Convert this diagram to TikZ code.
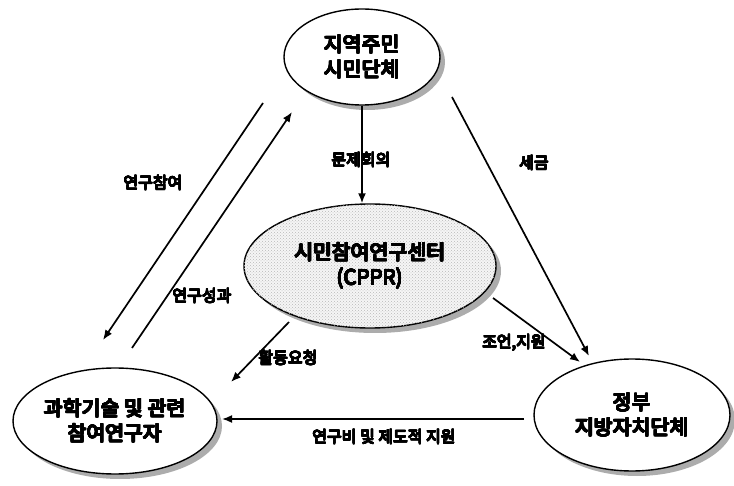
\documentclass[tikz,border=0pt]{standalone}
\usepackage{fontspec}
\newfontfamily\kr{Noto Sans CJK KR}
\usepackage[copies]{contour}
\contournumber{16}
\newcommand\bld[2][0.6pt]{\contourlength{#1}\contour{black}{#2}}
\usetikzlibrary{arrows.meta,shapes.geometric,shadows,patterns,calc}
\begin{document}
\begin{tikzpicture}[x=1pt,y=-1pt,
  ell/.style={ellipse, draw, line width=1.4pt, fill=white, inner sep=0pt, align=center,
    font=\kr\fontsize{20.5}{25}\selectfont,
    drop shadow={shadow xshift=5pt, shadow yshift=-5pt, fill=gray!65, opacity=1}},
  lab/.style={font=\kr\fontsize{16}{18}\selectfont, inner sep=1pt},
  arr/.style={line width=1.7pt, -{Latex[length=10pt,width=8pt]}}]
\useasboundingbox (0,0) rectangle (734,486);
\node[ell, minimum width=156pt, minimum height=96pt] (T) at (362,57) {\bld{지역주민}\\\bld{시민단체}};
\node[ell, minimum width=252pt, minimum height=124pt, fill=gray!8,
  postaction={pattern=crosshatch dots, pattern color=gray!55}] (C) at (370,266)
  {\bld{시민참여연구센터}\\\bld{(CPPR)}};
\node[ell, minimum width=204pt, minimum height=106pt] (BL) at (115,421) {\bld{과학기술 및 관련}\\\bld{참여연구자}};
\node[ell, minimum width=196pt, minimum height=112pt] (BR) at (632,415) {\bld{정부}\\\bld{지방자치단체}};
% coordinates for free ends
\coordinate (s1) at (452,97);  \coordinate (s2) at (589,356);
\coordinate (p1) at (263,103); \coordinate (p2) at (103,340);
\coordinate (r1) at (132,348); \coordinate (r2) at (292,112);
\coordinate (a1) at (289,322); \coordinate (a2) at (231,382);
\coordinate (j1) at (493,298); \coordinate (j2) at (580,362);
\coordinate (f1) at (524,419); \coordinate (f2) at (222,419);
% connectors
\draw[arr] (T.south) -- (T.south |- C.north);
\draw[arr] (s1) -- (s2);
\draw[arr] (p1) -- (p2);
\draw[arr] (r1) -- (r2);
\draw[arr] (a1) -- (a2);
\draw[arr] (j1) -- (j2);
\draw[arr] (f1) -- (f2);
% labels
\node[lab] (l1) at (361,160) {\bld[0.45pt]{문제회의}};
\node[lab] (l2) at (534,163) {\bld[0.45pt]{세금}};
\node[lab] (l3) at (153,183) {\bld[0.45pt]{연구참여}};
\node[lab] (l4) at (202,296) {\bld[0.45pt]{연구성과}};
\node[lab] (l5) at (288,358) {\bld[0.45pt]{활동요청}};
\node[lab] (l6) at (514,343) {\bld[0.45pt]{조언,지원}};
\node[lab] (l7) at (384,437) {\bld[0.45pt]{연구비 및 제도적 지원}};
\end{tikzpicture}
\end{document}
